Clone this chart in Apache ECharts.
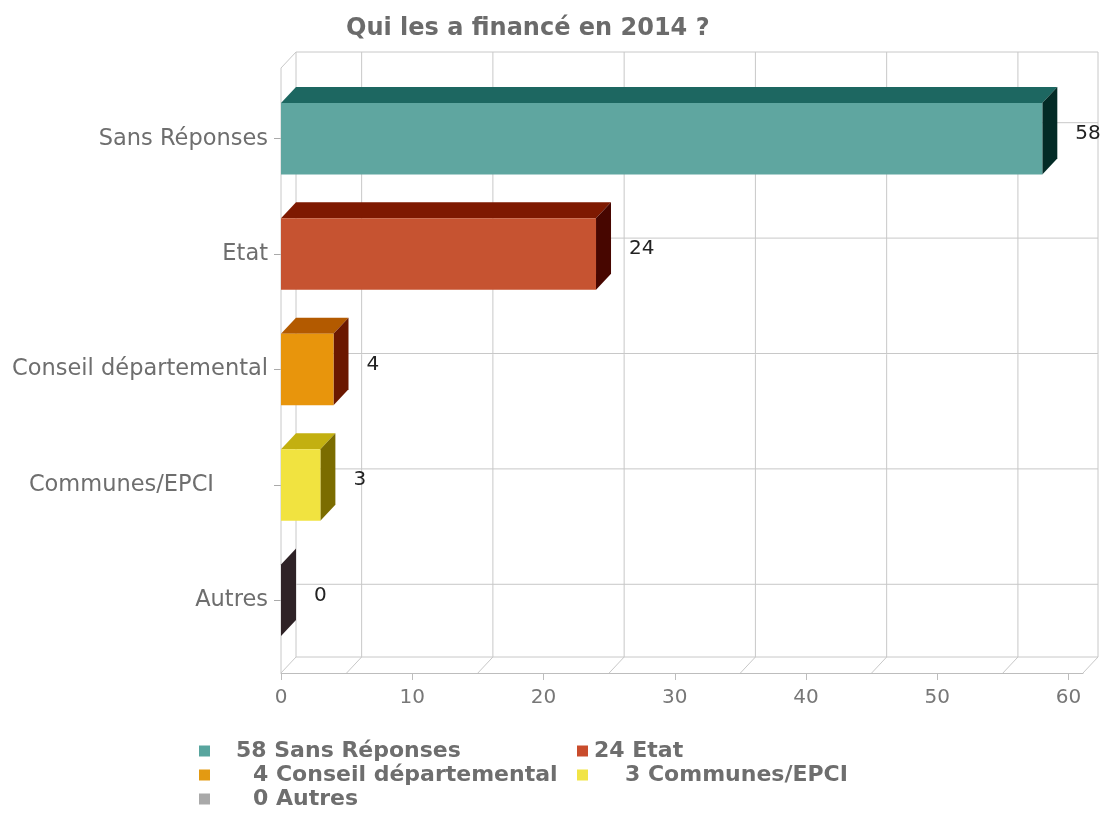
<!DOCTYPE html>
<html>
<head>
<meta charset="utf-8">
<script src="https://cdn.jsdelivr.net/npm/echarts@6/dist/echarts.min.js"></script>
<style>
html, body { margin: 0; background: #fff; }
#chart { width: 1107px; height: 819px; }
</style>
</head>
<body>
<div id="chart"></div>
<script>
// données du graphique
var categories = ['Sans Réponses', 'Etat', 'Conseil départemental', 'Communes/EPCI', 'Autres'];
var values = [58, 24, 4, 3, 0];
var xTicks = [0, 10, 20, 30, 40, 50, 60];
var xGridLines = [5, 15, 25, 35, 45, 55];

// couleurs des faces (avant, dessus, côté)
var faceColors = [
    {front: '#5fa6a0', top: '#1d6761', side: '#032b26'},
    {front: '#c65331', top: '#7e1901', side: '#470600'},
    {front: '#e8950c', top: '#b35a00', side: '#6b1800'},
    {front: '#f1e340', top: '#c3b010', side: '#7b6c00'},
    {front: '#2e2226', top: '#3a2d31', side: '#2e2226'}
];
var legendColors = ['#58a59e', '#c94c2c', '#e39a12', '#f1e445', '#a9a9a9'];
var legendPad = [21, 1, 38, 32, 38];

var DX = 15, DY = -16;
var FONT = '"DejaVu Sans", Verdana, sans-serif';
var LINE = '#c8c8c8';

var chart = echarts.init(document.getElementById('chart'));

function renderFrame(params, api) {
    var cs = params.coordSys;
    var x0 = cs.x, x1 = cs.x + cs.width;
    var fTop = cs.y - 13, fBot = cs.y + cs.height + 15;
    var bTop = fTop + DY, bBot = fBot + DY;
    var lines = [];
    function seg(a, b, c, d) {
        lines.push({type: 'line', shape: {x1: a, y1: b, x2: c, y2: d}, style: {stroke: LINE, lineWidth: 1}});
    }
    // mur du fond
    seg(x0 + DX, bTop, x1 + DX, bTop);
    seg(x0 + DX, bTop, x0 + DX, bBot);
    seg(x1 + DX, bTop, x1 + DX, bBot);
    seg(x0 + DX, bBot, x1 + DX, bBot);
    // arêtes gauche + sol
    seg(x0, fTop, x0, fBot);
    seg(x0, fTop, x0 + DX, bTop);
    seg(x0, fBot, x0 + DX, bBot);
    seg(x1, fBot, x1 + DX, bBot);
    xGridLines.forEach(function (v) {
        var x = api.coord([v, 0])[0];
        seg(x + DX, bTop, x + DX, bBot);
        seg(x, fBot, x + DX, bBot);
    });
    categories.forEach(function (c, i) {
        var y = api.coord([0, i])[1] + DY;
        seg(x0 + DX, y, x1 + DX, y);
    });
    return {type: 'group', children: lines};
}

function makeBar(i) {
    return function (params, api) {
        var v = api.value(0), c = api.value(1);
        var base = api.coord([0, c]), end = api.coord([v, c]);
        var h = api.size([0, 1])[1] * 0.62;
        var t = base[1] - h / 2, b = base[1] + h / 2;
        var x0 = base[0], x1 = end[0];
        var col = faceColors[i];
        return {
            type: 'group',
            children: [
                {type: 'polygon', shape: {points: [[x0, t], [x1, t], [x1 + DX, t + DY], [x0 + DX, t + DY]]}, style: {fill: col.top}},
                {type: 'polygon', shape: {points: [[x1, t], [x1 + DX, t + DY], [x1 + DX, b + DY], [x1, b]]}, style: {fill: col.side}},
                {type: 'rect', shape: {x: x0, y: t, width: x1 - x0, height: h}, style: {fill: col.front}},
                {type: 'text', x: x1 + 33, y: base[1] - 5, style: {
                    text: String(v), fill: '#222', fontSize: 20, fontFamily: FONT,
                    align: 'left', verticalAlign: 'middle'
                }}
            ]
        };
    };
}

var series = [{
    type: 'custom',
    name: 'cadre',
    renderItem: renderFrame,
    data: [[0, 0]],
    z: 1,
    silent: true
}];
categories.forEach(function (c, i) {
    series.push({
        type: 'custom',
        name: c,
        renderItem: makeBar(i),
        data: [[values[i], i]],
        itemStyle: {color: legendColors[i]},
        z: 2
    });
});

var legendText = {fontSize: 22, fontWeight: 'bold', color: '#6e6e6e', fontFamily: FONT, lineHeight: 21};
var legendRich = {t: legendText};
categories.forEach(function (c, i) {
    legendRich['n' + i] = Object.assign({padding: [0, 0, 0, legendPad[i]]}, legendText);
});

function makeLegend(left, idx) {
    return {
        orient: 'vertical',
        left: left,
        top: 740,
        padding: 0,
        itemWidth: 11,
        itemHeight: 11,
        itemGap: 2,
        icon: 'rect',
        selectedMode: false,
        data: idx.map(function (i) {
            return {name: categories[i], itemStyle: {color: legendColors[i]}};
        }),
        formatter: function (name) {
            var i = categories.indexOf(name);
            return '{n' + i + '|' + values[i] + '}{t| ' + name + '}';
        },
        textStyle: Object.assign({rich: legendRich}, legendText)
    };
}

chart.setOption({
    backgroundColor: '#fff',
    animation: false,
    title: {
        text: 'Qui les a financé en 2014 ?',
        left: 346,
        top: 17,
        padding: 0,
        textStyle: {fontSize: 24, fontWeight: 'bold', color: '#6b6b6b', fontFamily: FONT}
    },
    legend: [makeLegend(199, [0, 2, 4]), makeLegend(577, [1, 3])],
    grid: {left: 281, right: 24, top: 81, bottom: 161, outerBoundsMode: 'none'},
    xAxis: {
        type: 'value',
        min: 0,
        max: 61.1,
        interval: 10,
        offset: 15,
        axisLine: {show: true, lineStyle: {color: '#bdbdbd'}},
        axisTick: {show: true, length: 7, customValues: xTicks, lineStyle: {color: '#bdbdbd'}},
        axisLabel: {customValues: xTicks, color: '#777', fontSize: 20, fontFamily: FONT, margin: 15},
        splitLine: {show: false}
    },
    yAxis: {
        type: 'category',
        data: categories,
        inverse: true,
        axisLine: {show: false},
        axisTick: {show: true, alignWithLabel: true, length: 7, lineStyle: {color: '#aaa'}},
        axisLabel: {
            color: '#6e6e6e', fontSize: 22.5, fontFamily: FONT, margin: 13,
            formatter: function (v) {
                return v === 'Communes/EPCI' ? '{p|' + v + '}' : v;
            },
            rich: {p: {padding: [0, 54, 0, 0], color: '#6e6e6e', fontSize: 22.5, fontFamily: FONT}}
        },
        splitLine: {show: false}
    },
    series: series
});
</script>
</body>
</html>
